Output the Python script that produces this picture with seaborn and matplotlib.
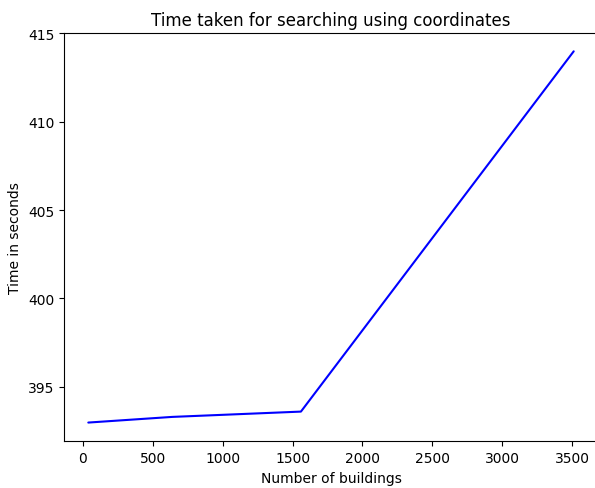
import pandas as pd
import matplotlib
matplotlib.use("Agg")
import matplotlib.pyplot as plt
import seaborn as sns

# Data
buildings = [40, 640, 1560, 3510]
seconds = [392.98, 393.3, 393.6, 413.98]

df = pd.DataFrame({"Number of buildings": buildings, "Time in seconds": seconds})

sns.set_style("ticks", {"text.color": "black", "axes.labelcolor": "black",
                        "xtick.color": "black", "ytick.color": "black",
                        "axes.edgecolor": "black"})
plt.rcParams['font.family'] = ['DejaVu Sans']

fig = plt.figure(figsize=(5.95, 4.89), dpi=100)
ax = fig.add_axes([0.1076, 0.0955, 0.8974, 0.8344])
sns.lineplot(data=df, x="Number of buildings", y="Time in seconds", color="blue", linewidth=1.5, ax=ax)

ax.set_title("Time taken for searching using coordinates", fontsize=12)
ax.set_xlabel("Number of buildings", fontsize=10)
ax.set_ylabel("Time in seconds", fontsize=10)
ax.set_xticks([0, 500, 1000, 1500, 2000, 2500, 3000, 3500])
ax.set_yticks([395, 400, 405, 410, 415])
ax.tick_params(labelsize=10)
ax.set_ylim(391.92, 415.0)
ax.set_xlim(-133.5, 3683.5)

fig.savefig("out.png", dpi=100)
plt.close()
